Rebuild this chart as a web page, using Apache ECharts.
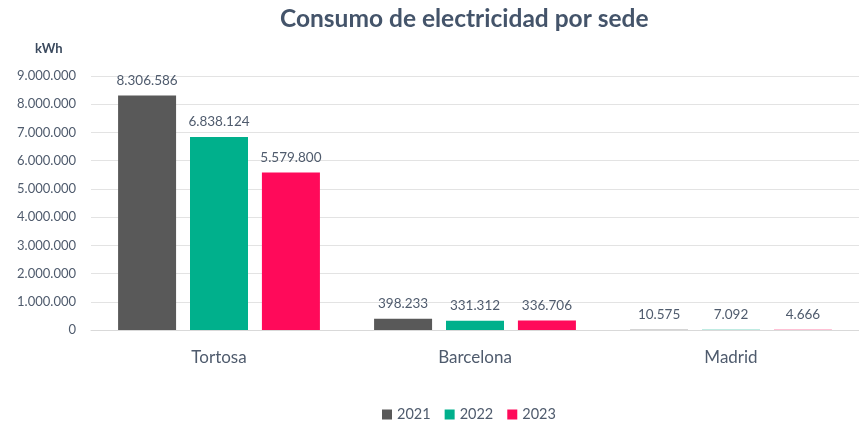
<!DOCTYPE html>
<html><head><meta charset="utf-8">
<script src="https://cdn.jsdelivr.net/npm/echarts@6/dist/echarts.min.js"></script>
<style>html,body{margin:0;padding:0;background:#fff}#c{width:859px;height:425px}</style>
</head><body><div id="c"></div>
<script>
const categories = ['Tortosa', 'Barcelona', 'Madrid'];
const years = ['2021', '2022', '2023'];
const values2021 = [8306586, 398233, 10575];
const values2022 = [6838124, 331312, 7092];
const values2023 = [5579800, 336706, 4666];
const colors = ['#595959', '#00B08C', '#FF0A5A'];
const yMax = 9000000, yStep = 1000000;

const fmt = v => String(Math.round(v)).replace(/\B(?=(\d{3})+(?!\d))/g, '.');
const font = 'Lato, "Open Sans", sans-serif';
const textCol = '#4F5B6D';

const chart = echarts.init(document.getElementById('c'));
const seriesData = [values2021, values2022, values2023];
chart.setOption({
  animation: false,
  textStyle: { fontFamily: font },
  title: {
    text: 'Consumo de electricidad por sede',
    left: 275, top: 2,
    textStyle: { fontFamily: font, fontSize: 24.5, fontWeight: 'bold', color: '#44546A' }
  },
  graphic: [{
    type: 'text', left: 35, top: 42,
    style: { text: 'kWh', font: 'bold 13px ' + font, fill: '#3B4A5E' }
  }],
  legend: {
    top: 402, left: 377, itemWidth: 10, itemHeight: 10, itemGap: 14,
    icon: 'rect',
    textStyle: { fontFamily: font, fontSize: 14.5, color: textCol }
  },
  grid: { left: 91, right: -9, top: 76, bottom: 95, containLabel: false },
  xAxis: {
    type: 'category', data: categories,
    axisLine: { lineStyle: { color: '#D9D9D9' } },
    axisTick: { show: false },
    axisLabel: { fontFamily: font, fontSize: 17, color: textCol, margin: 19 }
  },
  yAxis: {
    type: 'value', min: 0, max: yMax, interval: yStep,
    axisLine: { show: false }, axisTick: { show: false },
    splitLine: { lineStyle: { color: '#E3E3E3' } },
    axisLabel: { fontFamily: font, fontSize: 13, color: textCol, margin: 15, formatter: fmt }
  },
  series: years.map((y, i) => ({
    name: y, type: 'bar', data: seriesData[i],
    barWidth: 58, barGap: '24%',
    itemStyle: { color: colors[i] },
    label: {
      show: true, position: 'top', distance: 8,
      fontFamily: font, fontSize: 13.5, color: textCol,
      formatter: p => fmt(p.value)
    }
  }))
});
</script></body></html>
